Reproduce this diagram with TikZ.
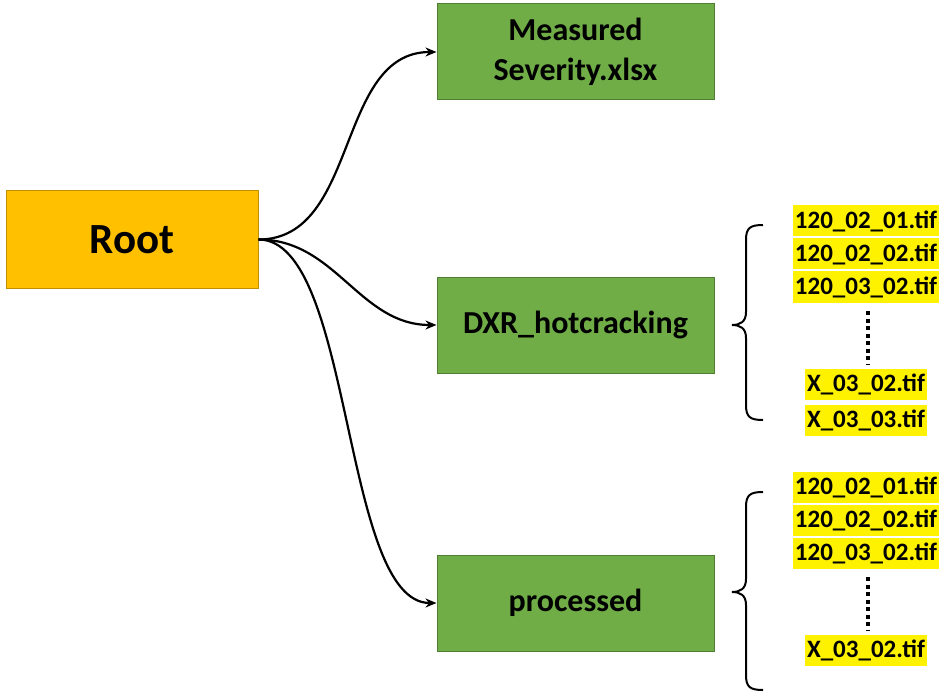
\documentclass[tikz,border=0pt]{standalone}
\usepackage{fontspec}
\setmainfont{Carlito}
\usetikzlibrary{arrows.meta}
\definecolor{rootfill}{HTML}{FFC000}
\definecolor{rootline}{HTML}{BF9000}
\definecolor{dirfill}{HTML}{70AD47}
\definecolor{dirline}{HTML}{507E32}
\begin{document}
\begin{tikzpicture}[x=1pt, y=-1pt, >={Stealth[length=11pt,width=9pt]},
  rootbox/.style={draw=rootline, fill=rootfill, line width=1pt, minimum width=252pt, minimum height=97pt,
    font=\fontsize{43}{48}\selectfont\bfseries},
  dirbox/.style={draw=dirline, fill=dirfill, line width=1pt, minimum width=277pt, minimum height=96pt,
    align=center, font=\fontsize{32}{40}\selectfont\bfseries},
  tif/.style={fill=yellow, inner xsep=2pt, inner ysep=0pt, minimum height=31pt,
    font=\fontsize{25}{28}\selectfont\bfseries},
  arr/.style={->, line width=2.2pt},
  brc/.style={line width=2pt},
  dots/.style={line width=4pt, dash pattern=on 4pt off 3.5pt}]
  \useasboundingbox (0,0) rectangle (948,695);
  % folders
  \node[rootbox] (root) at (132,239.5) {Root};
  \node[dirbox] (meas) at (575.5,52) {Measured\\Severity.xlsx};
  \node[dirbox] (dxr)  at (575.5,325) {DXR\_hotcracking};
  \node[dirbox] (proc) at (575.5,603) {processed};
  % links
  \draw[arr] (root.east) to[out=0, in=180] (meas.west);
  \draw[arr] (root.east) to[out=0, in=180] (dxr.west);
  \draw[arr] (root.east) to[out=0, in=180, looseness=0.6] (proc.west);
  % files in DXR_hotcracking
  \node[tif] (da) at (866,221) {120\_02\_01.tif};
  \node[tif] (db) at (866,254) {120\_02\_02.tif};
  \node[tif] (dc) at (866,287) {120\_03\_02.tif};
  \node[tif] (dd) at (866,384) {X\_03\_02.tif};
  \node[tif] (de) at (866,420) {X\_03\_03.tif};
  \coordinate (dtop) at (868,311);
  \coordinate (dbot) at (868,364);
  \draw[dots] (dtop) -- (dbot);
  \draw[brc] (763,225) .. controls (750,225) and (746,228) .. (746,240) -- (746,312)
    .. controls (746,322) and (740,325) .. (732,325)
    .. controls (740,325) and (746,328) .. (746,338) -- (746,405)
    .. controls (746,417) and (750,420) .. (763,420);
  % files in processed
  \node[tif] (pa) at (866,487) {120\_02\_01.tif};
  \node[tif] (pb) at (866,520) {120\_02\_02.tif};
  \node[tif] (pc) at (866,553) {120\_03\_02.tif};
  \node[tif] (pd) at (866,650) {X\_03\_02.tif};
  \coordinate (ptop) at (868,577);
  \coordinate (pbot) at (868,630);
  \draw[dots] (ptop) -- (pbot);
  \draw[brc] (763,492) .. controls (750,492) and (746,495) .. (746,507) -- (746,579)
    .. controls (746,589) and (740,592) .. (732,592)
    .. controls (740,592) and (746,595) .. (746,605) -- (746,675)
    .. controls (746,687) and (750,690) .. (763,690);
\end{tikzpicture}
\end{document}
